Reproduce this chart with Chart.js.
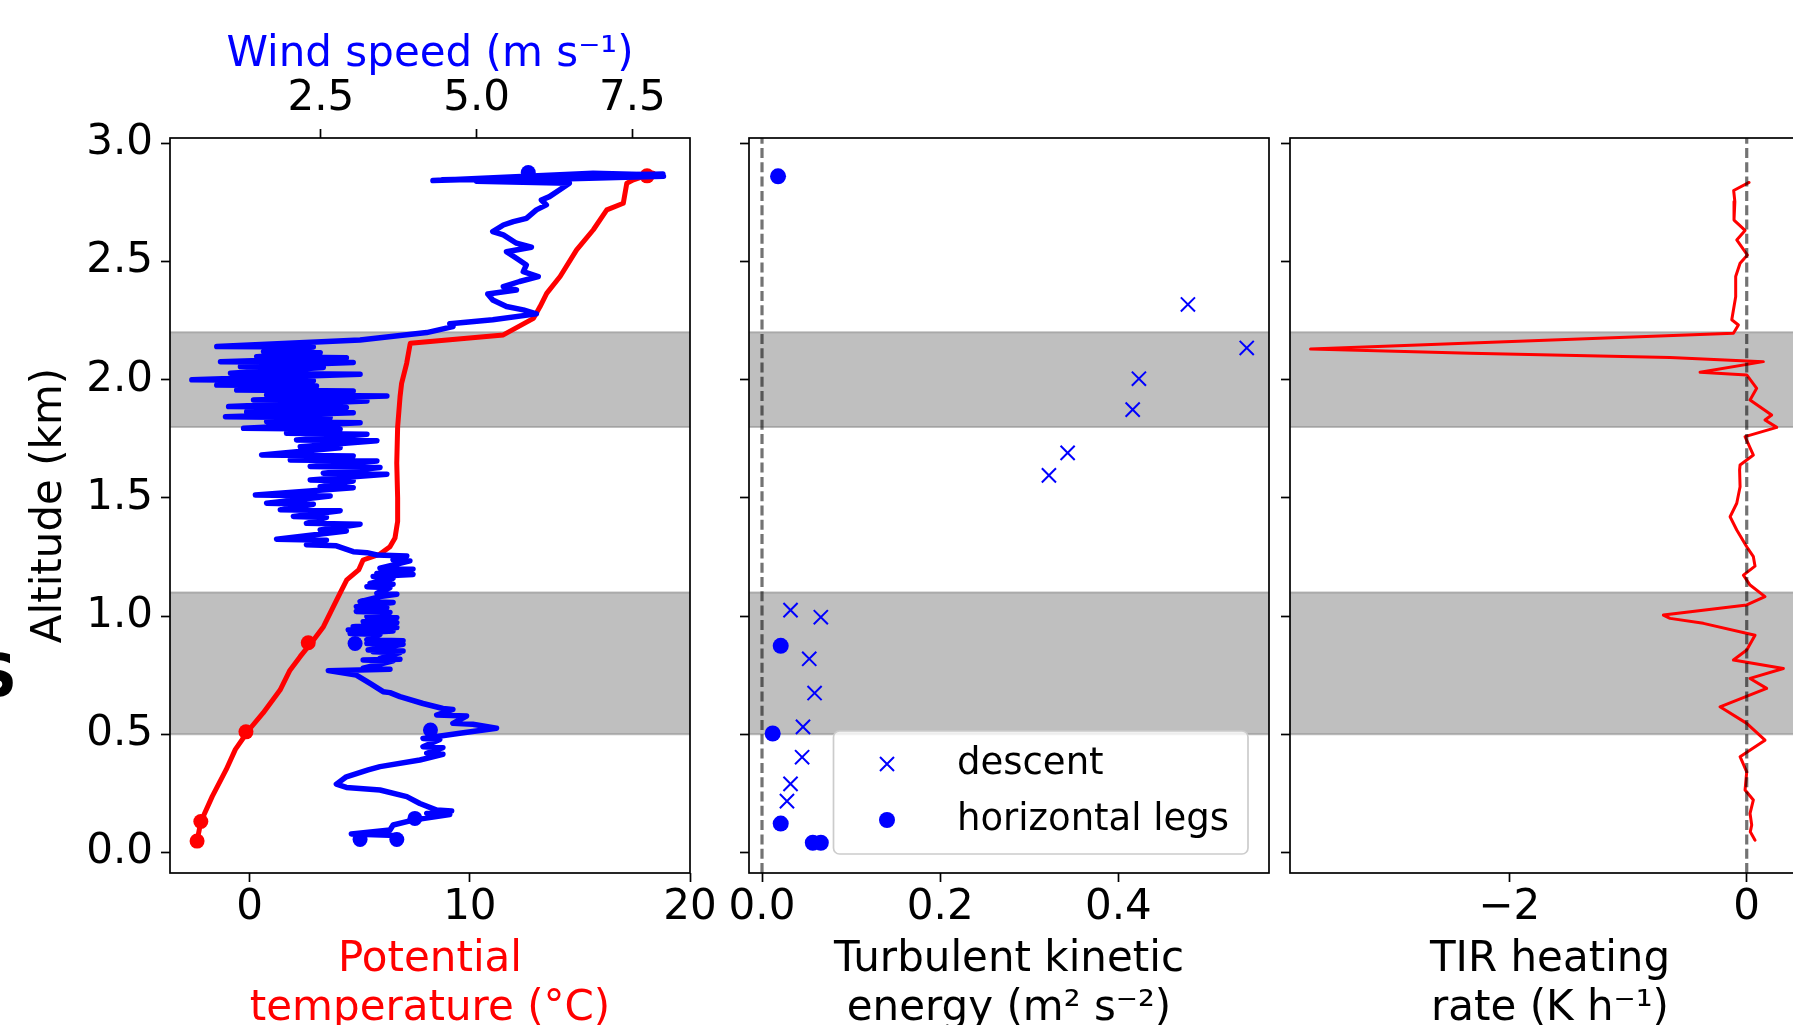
<!DOCTYPE html>
<html>
<head>
<meta charset="utf-8">
<script src="https://cdn.jsdelivr.net/npm/chart.js@4.4.0/dist/chart.umd.min.js"></script>
<style>
  html, body { margin: 0; padding: 0; background: #fff; overflow: hidden; width: 1793px; height: 1025px; }
  canvas { position: absolute; left: 0; top: 0; }
</style>
</head>
<body>
<canvas id="c1" width="1830" height="1060"></canvas>
<canvas id="c2" width="1830" height="1060"></canvas>
<canvas id="c3" width="1830" height="1060"></canvas>
<script>
'use strict';

// shared altitude axis (km)
const altMin = -0.087;
const altMax = 3.022;
const altTicks = [0, 0.5, 1, 1.5, 2, 2.5, 3];
const altLabels = ['0.0', '0.5', '1.0', '1.5', '2.0', '2.5', '3.0'];
const bands = [[0.5, 1.1], [1.8, 2.2]];

// panel 1 - wind speed profile of the descent (top leg first)
const windAlt = [2.870, 2.842, 2.873, 2.866, 2.845, 2.860, 2.839, 2.831, 2.802, 2.774,
  2.760, 2.739, 2.718, 2.682, 2.668, 2.654, 2.626, 2.612, 2.577, 2.560,
  2.541, 2.513, 2.485, 2.457, 2.436, 2.415, 2.393, 2.379, 2.362, 2.337,
  2.309, 2.295, 2.278, 2.253, 2.236, 2.224, 2.199, 2.168, 2.140,
  2.138, 2.118, 2.114, 2.097, 2.093, 2.076, 2.072, 2.055, 2.051, 2.027, 2.023,
  1.999, 1.995, 1.977, 1.973, 1.956, 1.952, 1.935, 1.931, 1.914, 1.910,
  1.886, 1.882, 1.864, 1.860, 1.843, 1.839, 1.822, 1.818, 1.794, 1.790,
  1.773, 1.769, 1.745, 1.741, 1.716, 1.712, 1.681, 1.677, 1.660, 1.656,
  1.632, 1.628, 1.604, 1.600, 1.575, 1.571, 1.547, 1.543, 1.512, 1.508,
  1.477, 1.473, 1.449, 1.445, 1.421, 1.417, 1.392, 1.388, 1.364, 1.360,
  1.325, 1.321, 1.301, 1.297, 1.272, 1.268, 1.258, 1.254, 1.237, 1.233, 1.202, 1.198,
  1.180, 1.176, 1.167, 1.160, 1.138, 1.134, 1.124, 1.120, 1.096, 1.092, 1.082,
  1.061, 1.057, 1.039, 1.035, 1.019, 1.015, 0.997, 0.993, 0.976, 0.972,
  0.955, 0.951, 0.941, 0.937, 0.926, 0.922, 0.899, 0.895, 0.884, 0.880,
  0.856, 0.852, 0.849, 0.845, 0.821, 0.817, 0.814, 0.810, 0.779, 0.775,
  0.769, 0.750, 0.715, 0.680, 0.676, 0.659, 0.630, 0.609, 0.605, 0.581, 0.577,
  0.546, 0.542, 0.525, 0.504, 0.482, 0.478, 0.447, 0.443, 0.419, 0.415,
  0.391, 0.363, 0.349, 0.320, 0.289, 0.275, 0.264, 0.236, 0.207,
  0.179, 0.175, 0.165, 0.160, 0.137, 0.116, 0.095, 0.078, 0.072];
const windSpeed = [7.99, 4.30, 6.87, 7.96, 4.45, 8.00, 5.00, 6.49, 6.33, 6.17,
  6.04, 6.12, 5.96, 5.80, 5.59, 5.43, 5.26, 5.43, 5.64, 5.88,
  5.48, 5.64, 5.80, 5.75, 5.99, 5.69, 5.43, 5.64, 5.18, 5.26,
  5.48, 5.75, 5.96, 5.26, 4.57, 4.62, 4.20, 3.13, 0.83,
  2.38, 1.58, 2.49, 1.47, 2.91, 0.89, 3.02, 1.21, 2.54, 1.05, 3.13,
  0.43, 2.38, 0.83, 2.43, 1.15, 3.02, 1.63, 3.56, 1.42, 3.24,
  1.02, 2.91, 1.31, 3.02, 0.97, 2.65, 1.63, 3.13, 1.26, 2.81,
  1.95, 3.24, 2.11, 3.40, 2.17, 2.81, 1.55, 3.02, 2.01, 3.40,
  2.33, 3.45, 2.54, 3.56, 2.33, 3.02, 2.49, 3.02, 1.45, 2.65,
  1.63, 2.38, 1.85, 2.81, 2.06, 2.59, 2.27, 3.13, 2.49, 2.91,
  1.79, 2.59, 2.27, 2.75, 3.02, 3.24, 3.40, 3.88, 3.66, 3.93, 3.45, 3.98,
  3.40, 3.98, 3.34, 3.66, 3.29, 3.66, 3.24, 3.61, 3.40, 3.72, 3.45,
  3.13, 3.66, 3.07, 3.56, 3.07, 3.61, 3.24, 3.72, 3.18, 3.72,
  3.02, 3.72, 2.94, 3.66, 2.97, 3.45, 3.24, 3.82, 3.24, 3.82,
  3.26, 3.82, 3.34, 3.77, 3.45, 3.77, 3.18, 3.66, 3.18, 3.61,
  2.62, 3.07, 3.29, 3.50, 3.61, 3.77, 4.14, 4.46, 4.62, 4.36, 4.84,
  4.62, 4.94, 5.32, 4.73, 4.14, 4.41, 4.14, 4.46, 4.20, 4.46,
  4.09, 3.45, 3.26, 2.91, 2.75, 2.91, 3.45, 3.88, 4.09,
  4.36, 4.60, 4.20, 4.57, 3.98, 3.66, 3.61, 2.99, 3.72];

// panel 1 - potential temperature profile
const tempAlt = [0.048, 0.13, 0.237, 0.35, 0.436, 0.52, 0.59, 0.687, 0.771, 0.828,
  0.898, 0.955, 1.04, 1.096, 1.153, 1.195, 1.237, 1.262, 1.293, 1.33,
  1.40, 1.5, 1.646, 1.8, 1.928, 1.984, 2.069, 2.147, 2.154, 2.189,
  2.259, 2.309, 2.365, 2.436, 2.549, 2.634, 2.718, 2.746, 2.831, 2.845, 2.873];
const tempVal = [-2.39, -2.22, -1.7, -1.07, -0.65, -0.02, 0.61, 1.38, 1.83, 2.29,
  2.89, 3.35, 3.80, 4.10, 4.41, 4.95, 5.15, 5.92, 6.37, 6.6,
  6.72, 6.72, 6.68, 6.72, 6.83, 6.90, 7.13, 7.28, 7.3, 11.52,
  12.89, 13.19, 13.49, 14.10, 14.85, 15.61, 16.22, 16.97, 17.13, 17.43, 18.34];

// panel 1 - horizontal legs
const legWindAlt = [2.876, 0.884, 0.518, 0.144, 0.055, 0.055];
const legWind = [5.83, 3.05, 4.26, 4.01, 3.13, 3.72];
const legTempAlt = [2.862, 0.887, 0.51, 0.131, 0.048];
const legTemp = [18.05, 2.66, -0.17, -2.22, -2.39];

const tempTicks = [0, 10, 20];
const tempLabels = ['0', '10', '20'];
const windTicks = [2.5, 5, 7.5];
const windLabels = ['2.5', '5.0', '7.5'];

// panel 2 - turbulent kinetic energy
const tkeDescentAlt = [2.318, 2.134, 2.004, 1.873, 1.690, 1.595, 1.025, 0.995, 0.819, 0.674, 0.531, 0.403, 0.290, 0.217];
const tkeDescent = [0.478, 0.544, 0.423, 0.416, 0.343, 0.322, 0.032, 0.066, 0.053, 0.059, 0.046, 0.045, 0.032, 0.028];
const tkeLegAlt = [2.860, 0.874, 0.503, 0.122, 0.041, 0.041];
const tkeLeg = [0.018, 0.021, 0.012, 0.021, 0.057, 0.066];
const tkeTicks = [0, 0.2, 0.4];
const tkeLabels = ['0.0', '0.2', '0.4'];

// panel 3 - TIR heating rate
const tirAlt = [2.834, 2.800, 2.753, 2.675, 2.631, 2.591, 2.527, 2.492, 2.436, 2.351,
  2.253, 2.231, 2.196, 2.129, 2.111, 2.094, 2.076, 2.031, 2.020, 1.963,
  1.914, 1.850, 1.829, 1.798, 1.759, 1.681, 1.639, 1.618, 1.547, 1.477,
  1.420, 1.364, 1.293, 1.251, 1.211, 1.173, 1.131, 1.082, 1.047, 1.004,
  0.990, 0.969, 0.919, 0.856, 0.814, 0.778, 0.736, 0.694, 0.616, 0.546,
  0.475, 0.405, 0.341, 0.264, 0.222, 0.165, 0.116, 0.087, 0.052];
const tirVal = [0.02, -0.11, -0.10, -0.107, -0.014, -0.084, 0.006, -0.056, -0.093, -0.093,
  -0.126, -0.07, -0.112, -3.674, -2.33, -0.646, 0.14, -0.393, 0.0, 0.084,
  0.028, 0.21, 0.154, 0.253, -0.014, 0.056, -0.056, -0.06, -0.056, -0.084,
  -0.14, -0.084, 0.0, 0.056, 0.07, -0.028, 0.028, 0.154, 0.0, -0.702,
  -0.646, -0.365, 0.07, 0.0, -0.112, 0.309, 0.028, 0.168, -0.225, 0.0,
  0.154, -0.056, 0.0, -0.014, 0.056, 0.028, 0.042, 0.03, 0.07];
const tirTicks = [-2, 0];
const tirLabels = ['\u22122', '0'];

const FONT = 'DejaVu Sans';
const tickFont = { family: FONT, size: 42 };
const titleFont = { family: FONT, size: 42, lineHeight: 1.15 };
const CANVAS_H = 1060;
const PLOT_TOP = 138;
const PLOT_BOTTOM = 873;
const XAXIS_H = 160;

const pts = (xs, ys) => xs.map((x, i) => ({ x: x, y: ys[i] }));

function zeroPad(s) {
  s.paddingLeft = 0; s.paddingRight = 0; s.paddingTop = 0; s.paddingBottom = 0;
}

const gridOpts = {
  display: true, drawOnChartArea: false, drawTicks: true,
  tickLength: 9, tickColor: '#000', tickWidth: 1.7
};

function altAxis(width, withLabels) {
  return {
    type: 'linear', position: 'left', min: altMin, max: altMax,
    afterBuildTicks: s => { s.ticks = altTicks.map(v => ({ value: v })); },
    afterFit: s => { s.width = width; zeroPad(s); },
    grid: gridOpts,
    border: { display: false },
    ticks: { display: withLabels, autoSkip: false, font: tickFont, color: '#000', padding: 8,
      callback: (v, i) => altLabels[i] },
    title: { display: withLabels, text: 'Altitude (km)', color: '#000', font: titleFont,
      padding: { top: 26, bottom: 0 } }
  };
}

function xAxis(position, min, max, ticks, labels, title, color, height, tickPad, titlePad) {
  return {
    type: 'linear', axis: 'x', position: position, min: min, max: max,
    afterBuildTicks: s => { s.ticks = ticks.map(v => ({ value: v })); },
    afterFit: s => { s.height = height; zeroPad(s); },
    grid: gridOpts,
    border: { display: false },
    ticks: { autoSkip: false, maxRotation: 0, font: tickFont, color: '#000', padding: tickPad,
      callback: (v, i) => labels[i] },
    title: { display: true, text: title, color: color, font: titleFont, padding: titlePad }
  };
}

// grey layers, drawn under the data through the altitude scale
const bandPlugin = {
  id: 'bands',
  beforeDatasetsDraw(chart) {
    const { ctx, chartArea: a, scales: { y } } = chart;
    ctx.save();
    bands.forEach(b => {
      const top = y.getPixelForValue(b[1]);
      const bot = y.getPixelForValue(b[0]);
      ctx.fillStyle = 'rgba(128,128,128,0.5)';
      ctx.fillRect(a.left, top, a.right - a.left, bot - top);
      ctx.strokeStyle = 'rgba(128,128,128,0.5)';
      ctx.lineWidth = 2;
      ctx.beginPath();
      ctx.moveTo(a.left, top); ctx.lineTo(a.right, top);
      ctx.moveTo(a.left, bot); ctx.lineTo(a.right, bot);
      ctx.stroke();
    });
    ctx.restore();
  }
};

const framePlugin = {
  id: 'frame',
  afterDraw(chart) {
    const { ctx, chartArea: a } = chart;
    ctx.save();
    ctx.strokeStyle = '#000';
    ctx.lineWidth = 1.7;
    ctx.strokeRect(a.left, a.top, a.right - a.left, a.bottom - a.top);
    ctx.restore();
  }
};

// clipped bold letter at the left page edge
const edgeLetter = {
  id: 'edgeLetter',
  afterDraw(chart) {
    const ctx = chart.ctx;
    ctx.save();
    ctx.font = 'bold 58px "DejaVu Sans"';
    ctx.fillStyle = '#000';
    ctx.textAlign = 'right';
    ctx.textBaseline = 'alphabetic';
    ctx.fillText('S', 17, 696);
    ctx.restore();
  }
};

const legendPlugin = {
  id: 'boxLegend',
  afterDatasetsDraw(chart) {
    const ctx = chart.ctx;
    const ds = chart.data.datasets;
    ctx.save();
    ctx.beginPath();
    ctx.roundRect(833.5, 731, 414.5, 123, 6);
    ctx.fillStyle = 'rgba(255,255,255,0.8)';
    ctx.fill();
    ctx.strokeStyle = '#cccccc';
    ctx.lineWidth = 1.7;
    ctx.stroke();
    ctx.strokeStyle = '#0000ff';
    ctx.fillStyle = '#0000ff';
    ctx.lineWidth = 2;
    ctx.beginPath();
    ctx.moveTo(880, 757); ctx.lineTo(894, 771);
    ctx.moveTo(880, 771); ctx.lineTo(894, 757);
    ctx.stroke();
    ctx.beginPath();
    ctx.arc(887, 820, 8, 0, Math.PI * 2);
    ctx.fill();
    ctx.fillStyle = '#000';
    ctx.font = '37px "DejaVu Sans"';
    ctx.textAlign = 'left';
    ctx.textBaseline = 'middle';
    ctx.fillText(ds[1].label, 957, 764);
    ctx.fillText(ds[2].label, 957, 820);
    ctx.restore();
  }
};

function baseOptions(padding, scales) {
  return {
    responsive: false,
    animation: false,
    devicePixelRatio: 1,
    events: [],
    layout: { autoPadding: false, padding: padding },
    plugins: { legend: { display: false }, tooltip: { enabled: false } },
    scales: scales
  };
}

const lineStyle = { showLine: true, pointRadius: 0, tension: 0, borderJoinStyle: 'round', borderCapStyle: 'round' };
const dashStyle = { borderColor: 'rgba(0,0,0,0.55)', borderWidth: 3.2, borderDash: [10, 4.3],
  showLine: true, pointRadius: 0, borderCapStyle: 'butt' };
const botPad = CANVAS_H - PLOT_BOTTOM - XAXIS_H;

// panel 1: potential temperature and wind speed
new Chart(document.getElementById('c1'), {
  type: 'scatter',
  data: {
    datasets: [
      { label: 'wind legs', data: pts(legWind, legWindAlt), xAxisID: 'xw', pointRadius: 7.5,
        backgroundColor: '#0000ff', borderWidth: 0, order: 0 },
      Object.assign({ label: 'wind', data: pts(windSpeed, windAlt), xAxisID: 'xw',
        borderColor: '#0000ff', borderWidth: 5.5, order: 1 }, lineStyle),
      { label: 'theta legs', data: pts(legTemp, legTempAlt), xAxisID: 'x', pointRadius: 7.5,
        backgroundColor: '#ff0000', borderWidth: 0, order: 2 },
      Object.assign({ label: 'theta', data: pts(tempVal, tempAlt), xAxisID: 'x',
        borderColor: '#ff0000', borderWidth: 5, order: 3 }, lineStyle)
    ]
  },
  options: baseOptions({ left: 0, top: 0, right: 1830 - 690, bottom: botPad }, {
    y: altAxis(170, true),
    x: xAxis('bottom', -3.62, 20, tempTicks, tempLabels, ['Potential', 'temperature (\u00b0C)'],
      '#ff0000', XAXIS_H, 1, { top: 0, bottom: 0 }),
    xw: xAxis('top', 0.079, 8.426, windTicks, windLabels, 'Wind speed (m s\u207b\u00b9)',
      '#0000ff', PLOT_TOP, 5, { top: 31, bottom: 0 })
  }),
  plugins: [bandPlugin, framePlugin, edgeLetter]
});

// panel 2: turbulent kinetic energy
new Chart(document.getElementById('c2'), {
  type: 'scatter',
  data: {
    datasets: [
      Object.assign({ label: 'zero', data: pts([0, 0], [altMin, altMax]), order: 0 }, dashStyle),
      { label: 'descent', data: pts(tkeDescent, tkeDescentAlt), pointStyle: 'crossRot', pointRadius: 10,
        borderColor: '#0000ff', borderWidth: 2, order: 1 },
      { label: 'horizontal legs', data: pts(tkeLeg, tkeLegAlt), pointRadius: 8,
        backgroundColor: '#0000ff', borderWidth: 0, order: 2 }
    ]
  },
  options: baseOptions({ left: 749 - 20, top: PLOT_TOP, right: 1830 - 1269, bottom: botPad }, {
    y: altAxis(20, false),
    x: xAxis('bottom', -0.0146, 0.569, tkeTicks, tkeLabels, ['Turbulent kinetic', 'energy (m\u00b2 s\u207b\u00b2)'],
      '#000', XAXIS_H, 1, { top: 0, bottom: 0 })
  }),
  plugins: [bandPlugin, framePlugin, legendPlugin]
});

// panel 3: TIR heating rate
new Chart(document.getElementById('c3'), {
  type: 'scatter',
  data: {
    datasets: [
      Object.assign({ label: 'zero', data: pts([0, 0], [altMin, altMax]), order: 0 }, dashStyle),
      Object.assign({ label: 'TIR', data: pts(tirVal, tirAlt), borderColor: '#ff0000',
        borderWidth: 3, order: 1 }, lineStyle)
    ]
  },
  options: baseOptions({ left: 1290 - 20, top: PLOT_TOP, right: 1830 - 1810, bottom: botPad }, {
    y: altAxis(20, false),
    x: xAxis('bottom', -3.847, 0.533, tirTicks, tirLabels, ['TIR heating', 'rate (K h\u207b\u00b9)'],
      '#000', XAXIS_H, 1, { top: 0, bottom: 0 })
  }),
  plugins: [bandPlugin, framePlugin]
});
</script>
</body>
</html>
